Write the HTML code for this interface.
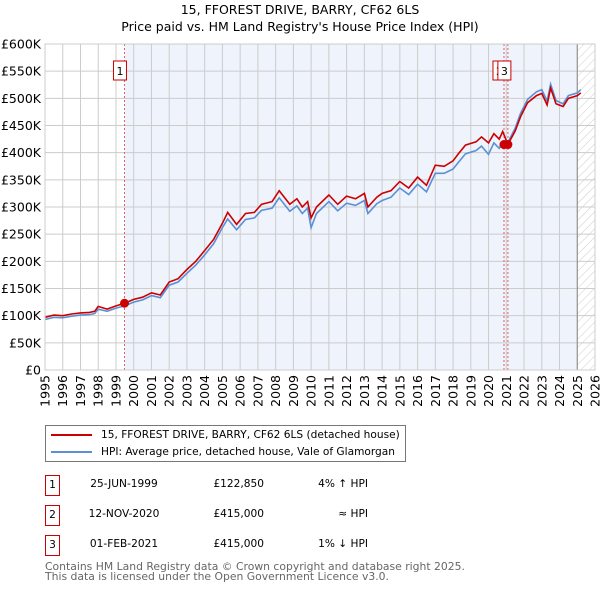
<!DOCTYPE html>
<html><head><meta charset="utf-8"><style>
body{margin:0;background:#fff;font-family:"DejaVu Sans","Liberation Sans",sans-serif;}
#wrap{position:relative;width:600px;height:590px;overflow:hidden;}
.t{position:absolute;font-size:12px;color:#000;white-space:nowrap;}
</style></head><body>
<div id="wrap">
<div class="t" style="left:0;width:600px;text-align:center;top:2px;font-size:12.5px">15, FFOREST DRIVE, BARRY, CF62 6LS</div>
<div class="t" style="left:0;width:600px;text-align:center;top:19px;font-size:12.5px">Price paid vs. HM Land Registry's House Price Index (HPI)</div>
<svg id="chart" width="600" height="420" style="position:absolute;left:0;top:0" font-family="DejaVu Sans, Liberation Sans, sans-serif"></svg>
<div style="position:absolute;left:45px;top:425px;width:359px;height:35px;border:1px solid #777;background:#fff">
 <div style="position:absolute;left:5px;top:3px;font-size:10.6px;white-space:nowrap"><span style="display:inline-block;width:41px;height:2px;background:#cc0000;vertical-align:middle;margin-right:9px"></span>15, FFOREST DRIVE, BARRY, CF62 6LS (detached house)</div>
 <div style="position:absolute;left:5px;top:20px;font-size:10.6px;white-space:nowrap"><span style="display:inline-block;width:41px;height:2px;background:#5b8fd6;vertical-align:middle;margin-right:9px"></span>HPI: Average price, detached house, Vale of Glamorgan</div>
</div>
<div id="rows"></div>
<div class="t" style="left:45px;top:562px;font-size:10.8px;color:#666;line-height:10px">Contains HM Land Registry data © Crown copyright and database right 2025.<br>This data is licensed under the Open Government Licence v3.0.</div>
</div>
<script>
const years=[1995,1996,1997,1998,1999,2000,2001,2002,2003,2004,2005,2006,2007,2008,2009,2010,2011,2012,2013,2014,2015,2016,2017,2018,2019,2020,2021,2022,2023,2024,2025,2026];
const yTicks=[0,50000,100000,150000,200000,250000,300000,350000,400000,450000,500000,550000,600000];
const yTickLabels=["£0","£50K","£100K","£150K","£200K","£250K","£300K","£350K","£400K","£450K","£500K","£550K","£600K"];
const priceDates=[1995.0,1995.5,1996.0,1996.5,1997.0,1997.5,1997.8,1998.0,1998.5,1999.0,1999.48,2000.0,2000.5,2001.0,2001.5,2002.0,2002.5,2003.0,2003.5,2004.0,2004.5,2005.0,2005.3,2005.8,2006.3,2006.8,2007.2,2007.8,2008.2,2008.8,2009.2,2009.5,2009.8,2010.0,2010.3,2011.0,2011.5,2012.0,2012.5,2013.0,2013.2,2013.7,2014.0,2014.5,2015.0,2015.5,2016.0,2016.5,2017.0,2017.5,2018.0,2018.3,2018.7,2019.3,2019.6,2020.0,2020.3,2020.6,2020.8,2021.09,2021.5,2021.8,2022.2,2022.7,2023.0,2023.3,2023.5,2023.8,2024.2,2024.5,2025.0,2025.2];
const priceValues=[97000,101000,100000,103000,105000,106000,108000,117000,112000,118000,122850,130000,134000,142000,138000,162000,168000,185000,200000,220000,240000,270000,290000,268000,288000,290000,305000,310000,330000,305000,315000,300000,310000,280000,300000,322000,305000,320000,315000,325000,300000,318000,325000,330000,347000,335000,355000,340000,377000,375000,385000,398000,414000,420000,429000,418000,435000,425000,439000,415000,440000,466000,492000,505000,509000,488000,519000,490000,485000,500000,505000,510000];
const hpiValues=[93000,97000,96000,99000,101000,102000,104000,112000,108000,114000,118000,125000,129000,137000,133000,156000,162000,178000,193000,212000,232000,262000,278000,258000,277000,280000,294000,298000,317000,292000,302000,288000,298000,262000,288000,310000,293000,307000,303000,312000,288000,306000,312000,318000,335000,323000,342000,328000,362000,362000,370000,382000,398000,404000,412000,397000,418000,408000,420000,419000,445000,472000,498000,512000,516000,495000,526000,496000,490000,505000,510000,516000];
const saleDates=[1999.48,2020.87,2021.09];
const salePrices=[122850,415000,415000];
const saleLabels=["1","2","3"];
const saleDateText=["25-JUN-1999","12-NOV-2020","01-FEB-2021"];
const salePriceText=["£122,850","£415,000","£415,000"];
const saleHpiText=["4% ↑ HPI","≈ HPI","1% ↓ HPI"];

const L=45,R=595,T=44,B=370,X0=1995,X1=2026,YMAX=600000;
const x=v=>L+(v-X0)/(X1-X0)*(R-L);
const y=v=>B-v/YMAX*(B-T);
const svg=document.getElementById('chart');
const NS='http://www.w3.org/2000/svg';
function mk(tag,attrs,parent){const e=document.createElementNS(NS,tag);for(const k in attrs)e.setAttribute(k,attrs[k]);(parent||svg).appendChild(e);return e;}

const defs=mk('defs',{});
const pat=mk('pattern',{id:'hatch',width:6,height:6,patternUnits:'userSpaceOnUse',patternTransform:'rotate(45)'},defs);
mk('line',{x1:0,y1:0,x2:0,y2:6,stroke:'#ccc','stroke-width':1},pat);

const shade=mk('rect',{x:x(saleDates[0]),y:T,width:x(2025)-x(saleDates[0]),height:B-T,fill:'#eef3fc'});

const hatch=mk('rect',{x:x(2025),y:T,width:R-x(2025),height:B-T,fill:'url(#hatch)'});


yTicks.forEach((v,i)=>{
 const g=mk('line',{x1:L,x2:R,y1:y(v),y2:y(v),stroke:'#ccc','stroke-width':1});
 
 const t=mk('text',{x:L-4,y:y(v)+4.5,'text-anchor':'end','font-size':12.5,fill:'#000'});
 t.textContent=yTickLabels[i];
 
});
years.forEach(v=>{
 const g=mk('line',{x1:x(v),x2:x(v),y1:T,y2:B,stroke:'#ccc','stroke-width':1});
 
 const t=mk('text',{x:0,y:0,'text-anchor':'end','font-size':12.5,fill:'#000',transform:`translate(${x(v)+4.5},${B+5}) rotate(-90)`});
 t.textContent=v;
 
});
const fl=mk('line',{x1:x(2025),x2:x(2025),y1:T,y2:B,stroke:'#888','stroke-width':1});


saleDates.forEach(d=>{
 const l=mk('line',{x1:x(d),x2:x(d),y1:T,y2:B,stroke:'#e06060','stroke-width':1,'stroke-dasharray':'2,2'});
 
});

function path(vals){return priceDates.map((d,i)=>(i?'L':'M')+x(d).toFixed(1)+','+y(vals[i]).toFixed(1)).join('');}
const hp=mk('path',{d:path(hpiValues),fill:'none',stroke:'#5b8fd6','stroke-width':1.6});

const pp=mk('path',{d:path(priceValues),fill:'none',stroke:'#cc0000','stroke-width':1.6});


saleDates.forEach((d,i)=>{
 const c=mk('circle',{cx:x(d),cy:y(salePrices[i]),r:4.5,fill:'#cc0000'});
 
});
const boxOff=[-11,-11,-10];
[0,1,2].forEach(i=>{
 const bx=x(saleDates[i])+boxOff[i];
 const g=mk('g',{});
 
 mk('rect',{x:bx,y:61,width:13,height:19,fill:'#fff',stroke:'#cc0000','stroke-width':1},g);
 const t=mk('text',{x:bx+6.5,y:75,'text-anchor':'middle','font-size':11,fill:'#000'},g);
 t.textContent=saleLabels[i];
});
const ax=mk('rect',{x:L,y:T,width:R-L,height:B-T,fill:'none',stroke:'#ccc'});


const rows=document.getElementById('rows');
saleLabels.forEach((s,i)=>{
 const top=475+i*30;
 const r=document.createElement('div');
 
 
 r.innerHTML=`<div style="position:absolute;left:45px;top:${top}px;width:13px;height:19px;border:1px solid #cc0000;font-size:10.6px;text-align:center;line-height:19px">${s}</div>
<div class="t" style="left:74px;width:100px;text-align:center;top:${top+3}px;font-size:10.6px">${saleDateText[i]}</div>
<div class="t" style="left:164px;width:100px;text-align:right;top:${top+3}px;font-size:10.6px">${salePriceText[i]}</div>
<div class="t" style="left:268px;width:100px;text-align:right;top:${top+3}px;font-size:10.6px">${saleHpiText[i]}</div>`;
 rows.appendChild(r);
});
</script>
</body></html>
